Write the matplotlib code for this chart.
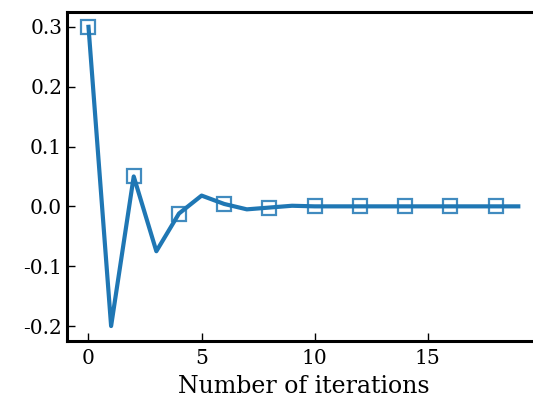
import matplotlib
matplotlib.use("Agg")
import matplotlib.pyplot as plt

iterations = list(range(20))
values = [0.300, -0.200, 0.050, -0.075, -0.012, 0.018, 0.004, -0.005, -0.002, 0.001,
          0.000, 0.000, 0.000, 0.000, 0.000, 0.000, 0.000, 0.000, 0.000, 0.000]

plt.rcParams['font.family'] = ['DejaVu Serif']
plt.rcParams['axes.unicode_minus'] = False

fig = plt.figure(figsize=(5.33, 3.98), dpi=100)
ax = fig.add_axes([0.1257, 0.1432, 0.887, 0.827])

ax.plot(iterations, values, color='#1f77b4', linewidth=3)
ax.plot(iterations[::2], values[::2], linestyle='none', marker='s', markersize=10,
        markerfacecolor='none', markeredgecolor='#1f77b4', markeredgewidth=1.6, alpha=0.85)

ax.set_xlabel("Number of iterations", fontsize=17, labelpad=5)
ax.set_xticks([0, 5, 10, 15])
ax.set_yticks([-0.2, -0.1, 0.0, 0.1, 0.2, 0.3])
ax.tick_params(direction='in', length=6, width=1, labelsize=14.5, top=False, right=False)
ax.tick_params(axis='x', pad=6)

for side in ax.spines.values():
    side.set_linewidth(2.2)

fig.savefig("out.png", dpi=100)
